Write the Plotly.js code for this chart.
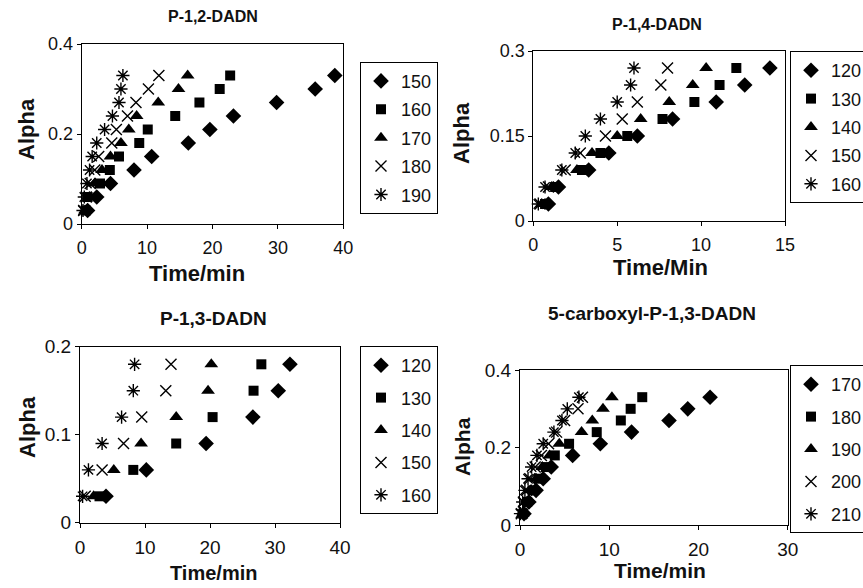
<!DOCTYPE html>
<html>
<head>
<meta charset="utf-8">
<script src="https://cdn.plot.ly/plotly-3.0.1.min.js"></script>
<style>html,body{margin:0;padding:0;background:#fff;}#chart{width:863px;height:588px;}</style>
</head>
<body>
<div id="chart"></div>
<script>
// ---------- DATA ----------
// Panel 1: P-1,2-DADN
const p1Title = "P-1,2-DADN";
const p1Series = ["150", "160", "170", "180", "190"];
const p1Alpha = [0.03, 0.06, 0.09, 0.12, 0.15, 0.18, 0.21, 0.24, 0.27, 0.30, 0.33];
const p1T150 = [0.9, 2.3, 4.4, 8.0, 10.7, 16.3, 19.6, 23.2, 29.8, 35.7, 38.7];
const p1T160 = [0.6, 0.9, 2.8, 4.3, 5.7, 8.8, 10.1, 14.3, 18.0, 21.1, 22.7];
const p1T170 = [0.5, 1.2, 2.0, 3.1, 4.4, 6.0, 7.2, 8.4, 11.7, 14.8, 16.2];
const p1T180 = [0.3, 0.7, 1.3, 2.0, 2.6, 4.6, 5.3, 7.0, 8.3, 10.2, 11.8];
const p1T190 = [0.2, 0.4, 0.8, 1.2, 1.6, 2.3, 3.5, 4.7, 5.7, 6.0, 6.3];
const p1XTicks = [0, 10, 20, 30, 40];
const p1YTicks = [0, 0.2, 0.4];
const p1YTickText = ["0", "0.2", "0.4"];

// Panel 2: P-1,4-DADN
const p2Title = "P-1,4-DADN";
const p2Series = ["120", "130", "140", "150", "160"];
const p2Alpha = [0.03, 0.06, 0.09, 0.12, 0.15, 0.18, 0.21, 0.24, 0.27];
const p2T120 = [0.9, 1.5, 3.3, 4.5, 6.2, 8.3, 10.9, 12.6, 14.1];
const p2T130 = [0.7, 1.3, 2.9, 4.0, 5.6, 7.7, 9.6, 11.1, 12.1];
const p2T140 = [0.5, 1.1, 2.6, 3.5, 5.0, 6.4, 8.1, 9.5, 10.3];
const p2T150 = [0.4, 0.9, 1.9, 2.8, 4.3, 5.3, 6.2, 7.6, 8.0];
const p2T160 = [0.3, 0.7, 1.7, 2.5, 3.1, 4.0, 5.0, 5.8, 6.0];
const p2XTicks = [0, 5, 10, 15];
const p2YTicks = [0, 0.15, 0.3];
const p2YTickText = ["0", "0.15", "0.3"];

// Panel 3: P-1,3-DADN
const p3Title = "P-1,3-DADN";
const p3Series = ["120", "130", "140", "150", "160"];
const p3Alpha = [0.03, 0.06, 0.09, 0.12, 0.15, 0.18];
const p3T120 = [4.0, 10.2, 19.4, 26.6, 30.5, 32.3];
const p3T130 = [3.0, 8.2, 14.8, 20.4, 26.7, 27.9];
const p3T140 = [2.1, 5.2, 9.4, 14.8, 19.7, 20.2];
const p3T150 = [0.8, 3.4, 6.7, 9.5, 13.2, 14.0];
const p3T160 = [0.4, 1.3, 3.4, 6.4, 8.2, 8.4];
const p3XTicks = [0, 10, 20, 30, 40];
const p3YTicks = [0, 0.1, 0.2];
const p3YTickText = ["0", "0.1", "0.2"];

// Panel 4: 5-carboxyl-P-1,3-DADN
const p4Title = "5-carboxyl-P-1,3-DADN";
const p4Series = ["170", "180", "190", "200", "210"];
const p4Alpha = [0.03, 0.06, 0.09, 0.12, 0.15, 0.18, 0.21, 0.24, 0.27, 0.30, 0.33];
const p4T170 = [0.45, 1.0, 1.8, 2.6, 3.5, 5.9, 9.0, 12.5, 16.7, 18.8, 21.3];
const p4T180 = [0.35, 0.8, 1.4, 2.1, 2.9, 3.9, 5.5, 8.6, 11.3, 12.4, 13.7];
const p4T190 = [0.3, 0.7, 1.2, 1.8, 2.5, 3.3, 4.4, 6.9, 8.1, 9.3, 10.3];
const p4T200 = [0.15, 0.4, 0.75, 1.1, 1.7, 2.4, 3.2, 4.1, 5.0, 6.5, 7.0];
const p4T210 = [0.05, 0.3, 0.55, 0.9, 1.3, 1.9, 2.6, 3.8, 4.7, 5.3, 6.6];
const p4XTicks = [0, 10, 20, 30];
const p4YTicks = [0, 0.2, 0.4];
const p4YTickText = ["0", "0.2", "0.4"];

const xLabelMin = "Time/min";
const xLabelMax = "Time/Min";
const yLabel = "Alpha";

// ---------- STYLE ----------
const FONT = "Liberation Sans, Arial, sans-serif";
const W = 863, H = 588;
const symbols = [
  {symbol: "diamond", size: 12, line: {width: 0}},
  {symbol: "square", size: 10, line: {width: 0}},
  {symbol: "triangle-up", size: 12, line: {width: 0}},
  {symbol: "x-thin-open", size: 11, line: {width: 1.4, color: "#000"}},
  {symbol: "asterisk-open", size: 11, line: {width: 1.4, color: "#000"}}
];

function px(x) { return x / W; }
function py(y) { return 1 - y / H; }

const panels = [
  {ax: "", leg: "legend", series: p1Series, alpha: p1Alpha, times: [p1T150, p1T160, p1T170, p1T180, p1T190]},
  {ax: "2", leg: "legend2", series: p2Series, alpha: p2Alpha, times: [p2T120, p2T130, p2T140, p2T150, p2T160]},
  {ax: "3", leg: "legend3", series: p3Series, alpha: p3Alpha, times: [p3T120, p3T130, p3T140, p3T150, p3T160]},
  {ax: "4", leg: "legend4", series: p4Series, alpha: p4Alpha, times: [p4T170, p4T180, p4T190, p4T200, p4T210]}
];

const traces = [];
panels.forEach((p, pi) => {
  p.series.forEach((name, si) => {
    const s = symbols[si];
    traces.push({
      type: "scatter",
      mode: "markers",
      x: p.times[si],
      y: p.alpha,
      name: name,
      xaxis: "x" + p.ax,
      yaxis: "y" + p.ax,
      legend: p.leg,
      legendgroup: "p" + pi + "s" + si,
      cliponaxis: false,
      marker: {symbol: s.symbol, size: s.size, color: "#000", line: s.line}
    });
  });
});

function xaxis(domain, range, ticks, anchor, fs) {
  return {
    domain: domain, range: range, tickmode: "array", tickvals: ticks,
    ticktext: ticks.map(String),
    showline: true, linecolor: "#000", linewidth: 1, mirror: true,
    ticks: "outside", ticklen: 4, tickcolor: "#000", tickwidth: 1,
    showgrid: false, zeroline: false, anchor: anchor,
    tickfont: {family: FONT, size: fs, color: "#111"},
    ticklabelstandoff: 3, fixedrange: true
  };
}
function yaxis(domain, range, ticks, text, anchor, fs) {
  return {
    domain: domain, range: range, tickmode: "array", tickvals: ticks, ticktext: text,
    showline: true, linecolor: "#000", linewidth: 1, mirror: true,
    ticks: "outside", ticklen: 4, tickcolor: "#000", tickwidth: 1,
    showgrid: false, zeroline: false, anchor: anchor,
    tickfont: {family: FONT, size: fs, color: "#111"}, fixedrange: true
  };
}
function legend(x, y, gap) {
  return {
    x: x, y: y, xanchor: "left", yanchor: "top", xref: "paper", yref: "paper",
    bordercolor: "#000", borderwidth: 1, bgcolor: "#fff",
    font: {family: FONT, size: 18, color: "#111"},
    tracegroupgap: gap, traceorder: "grouped", itemclick: false
  };
}
function ann(text, x, y, size, angle) {
  return {
    text: "<b>" + text + "</b>", xref: "paper", yref: "paper",
    x: px(x), y: py(y), xanchor: "center", yanchor: "middle",
    showarrow: false, textangle: angle || 0,
    font: {family: FONT, size: size, color: "#111"}
  };
}

const layout = {
  width: W, height: H,
  margin: {l: 0, r: 0, t: 0, b: 0, autoexpand: false},
  paper_bgcolor: "#fff", plot_bgcolor: "#fff",
  showlegend: true,
  xaxis:  xaxis([px(81.7), px(343.3)], [0, 40], p1XTicks, "y", 18),
  yaxis:  yaxis([py(224), py(44)], [0, 0.4], p1YTicks, p1YTickText, "x", 18),
  xaxis2: xaxis([px(533.3), px(785)], [0, 15], p2XTicks, "y2", 18),
  yaxis2: yaxis([py(221), py(51)], [0, 0.3], p2YTicks, p2YTickText, "x2", 18),
  xaxis3: xaxis([px(80), px(340)], [0, 40], p3XTicks, "y3", 19),
  yaxis3: yaxis([py(522.7), py(346.7)], [0, 0.2], p3YTicks, p3YTickText, "x3", 19),
  xaxis4: xaxis([px(520), px(787.7)], [0, 30], p4XTicks, "y4", 19),
  yaxis4: yaxis([py(525.3), py(370)], [0, 0.4], p4YTicks, p4YTickText, "x4", 19),
  legend:  legend(px(360), py(61.7), 2),
  legend2: legend(px(790), py(51), 2),
  legend3: legend(px(360), py(346), 6),
  legend4: legend(px(790), py(365), 6),
  annotations: [
    ann(p1Title, 213, 17, 16),
    ann(p2Title, 657, 25, 16),
    ann(p3Title, 213, 318, 19),
    ann(p4Title, 652, 313, 19),
    ann(xLabelMin, 197, 273, 22),
    ann(xLabelMax, 660, 267, 22),
    ann(xLabelMin, 213, 573, 20),
    ann(xLabelMin, 660, 570, 21),
    ann(yLabel, 27, 129, 22, -90),
    ann(yLabel, 462, 133, 22, -90),
    ann(yLabel, 27, 427, 22, -90),
    ann(yLabel, 462, 447, 21, -90)
  ]
};

Plotly.newPlot("chart", traces, layout, {staticPlot: true, displayModeBar: false});
</script>
</body>
</html>
